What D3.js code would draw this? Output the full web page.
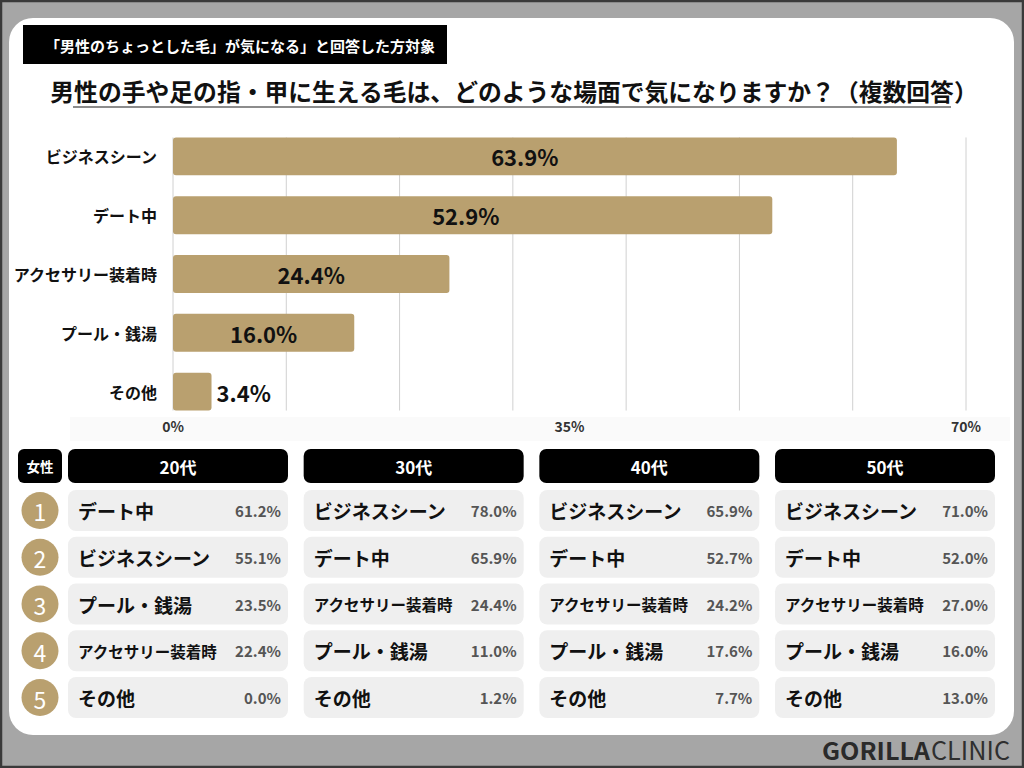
<!DOCTYPE html>
<html><head><meta charset="utf-8">
<script src="https://cdn.jsdelivr.net/npm/d3@7"></script>
<style>
html,body{margin:0;padding:0;background:#a6a6a6;}
svg{display:block;}
text{font-family:"Noto Sans CJK JP","Noto Sans",sans-serif;}
</style></head>
<body>
<svg id="chart" width="1024" height="768"></svg>
<script>
// ---- data ----
const subtitle = "「男性のちょっとした毛」が気になる」と回答した方対象";
const title = "男性の手や足の指・甲に生える毛は、どのような場面で気になりますか？（複数回答）";
const categories = ["ビジネスシーン","デート中","アクセサリー装着時","プール・銭湯","その他"];
const values = [63.9, 52.9, 24.4, 16.0, 3.4];
const axisTicks = [0, 35, 70];
const gridTicks = [0,10,20,30,40,50,60,70];
const genderLabel = "女性";
const ageGroups = ["20代","30代","40代","50代"];
const ranks = [1,2,3,4,5];
const items20 = ["デート中","ビジネスシーン","プール・銭湯","アクセサリー装着時","その他"];
const values20 = [61.2, 55.1, 23.5, 22.4, 0.0];
const items30 = ["ビジネスシーン","デート中","アクセサリー装着時","プール・銭湯","その他"];
const values30 = [78.0, 65.9, 24.4, 11.0, 1.2];
const items40 = ["ビジネスシーン","デート中","アクセサリー装着時","プール・銭湯","その他"];
const values40 = [65.9, 52.7, 24.2, 17.6, 7.7];
const items50 = ["ビジネスシーン","デート中","アクセサリー装着時","プール・銭湯","その他"];
const values50 = [71.0, 52.0, 27.0, 16.0, 13.0];

const groupItems = [items20, items30, items40, items50];
const groupValues = [values20, values30, values40, values50];

const gold = "#b9a06f";
const svg = d3.select("#chart");

// ---- frame ----
svg.append("rect").attr("x",1).attr("y",1).attr("width",1022).attr("height",766)
  .attr("fill","#a6a6a6").attr("stroke","#3a3a3a").attr("stroke-width",2.5);
svg.append("rect").attr("x",9).attr("y",18).attr("width",1005).attr("height",717)
  .attr("rx",24).attr("fill","#ffffff");

// ---- header ----
svg.append("rect").attr("x",23).attr("y",25).attr("width",424).attr("height",39).attr("fill","#000");
svg.append("text").attr("x",240).attr("y",45).attr("text-anchor","middle").attr("dominant-baseline","central")
  .attr("fill","#fff").attr("font-size",15).attr("font-weight",700).text(subtitle);
svg.append("text").attr("x",514).attr("y",90).attr("text-anchor","middle").attr("dominant-baseline","central")
  .attr("fill","#111").attr("font-size",23.8).attr("font-weight",700).text(title);
svg.append("line").attr("x1",73).attr("x2",951).attr("y1",107).attr("y2",107)
  .attr("stroke","#666").attr("stroke-width",1.5);

// ---- bar chart ----
const x = d3.scaleLinear().domain([0,70]).range([173,966]);
const y = d3.scaleBand().domain(categories).range([127,421]).paddingInner(0.356).paddingOuter(0.178);

// faint band behind axis labels
svg.append("rect").attr("x",70).attr("y",417).attr("width",940).attr("height",24).attr("fill","#fafafa");

svg.append("g").selectAll("line").data(gridTicks).join("line")
  .attr("x1",d=>x(d)).attr("x2",d=>x(d))
  .attr("y1",y(categories[0])).attr("y2",y(categories[4])+y.bandwidth())
  .attr("stroke","#d0d0d0").attr("stroke-width",1);

svg.append("g").selectAll("rect").data(values).join("rect")
  .attr("x",x(0)).attr("y",(d,i)=>y(categories[i]))
  .attr("width",d=>x(d)-x(0)).attr("height",y.bandwidth())
  .attr("rx",3).attr("fill",gold);

svg.append("g").selectAll("text").data(values).join("text")
  .attr("x",d=> d<10 ? x(d)+5 : (x(0)+x(d))/2 - Math.max(0,(d-30)*0.3))
  .attr("text-anchor",d=> d<10 ? "start" : "middle")
  .attr("y",(d,i)=>y(categories[i])+y.bandwidth()/2)
  .attr("dominant-baseline","central")
  .attr("fill","#111").attr("font-size",22).attr("font-weight",700)
  .attr("font-family","'Noto Sans','Noto Sans CJK JP',sans-serif")
  .text(d=>d.toFixed(1)+"%");

svg.append("g").selectAll("text").data(categories).join("text")
  .attr("x",157).attr("y",d=>y(d)+y.bandwidth()/2)
  .attr("text-anchor","end").attr("dominant-baseline","central")
  .attr("fill","#111").attr("font-size",16).attr("font-weight",700).text(d=>d);

svg.append("g").selectAll("text").data(axisTicks).join("text")
  .attr("x",d=>x(d)).attr("y",426).attr("text-anchor","middle").attr("dominant-baseline","central")
  .attr("fill","#333").attr("font-size",14).attr("font-weight",700)
  .attr("font-family","'Noto Sans','Noto Sans CJK JP',sans-serif")
  .text(d=>d+"%");

// ---- table ----
const cx = d3.scaleBand().domain(ageGroups).range([68,995]).paddingInner(0.0665);
const ry = d3.scaleBand().domain(ranks).range([490,718]).paddingInner(0.123);

svg.append("rect").attr("x",18).attr("y",449).attr("width",44).attr("height",34).attr("rx",6).attr("fill","#000");
svg.append("text").attr("x",40).attr("y",466).attr("text-anchor","middle").attr("dominant-baseline","central")
  .attr("fill","#fff").attr("font-size",13.5).attr("font-weight",700).text(genderLabel);

const hdr = svg.append("g").selectAll("g").data(ageGroups).join("g");
hdr.append("rect").attr("x",d=>cx(d)).attr("y",449).attr("width",cx.bandwidth()).attr("height",34)
  .attr("rx",7).attr("fill","#000");
hdr.append("text").attr("x",d=>cx(d)+cx.bandwidth()/2).attr("y",466)
  .attr("text-anchor","middle").attr("dominant-baseline","central")
  .attr("fill","#fff").attr("font-size",17).attr("font-weight",700).text(d=>d);

// rank circles
const rk = svg.append("g").selectAll("g").data(ranks).join("g");
rk.append("circle").attr("cx",40).attr("cy",d=>ry(d)+ry.bandwidth()/2).attr("r",18.5).attr("fill",gold);
rk.append("text").attr("x",40).attr("y",d=>ry(d)+ry.bandwidth()/2+1)
  .attr("text-anchor","middle").attr("dominant-baseline","central")
  .attr("fill","#fff").attr("font-size",23).attr("font-weight",400)
  .attr("font-family","'Noto Sans CJK JP','Noto Sans',sans-serif").text(d=>d);

ageGroups.forEach((g,gi)=>{
  const col = svg.append("g");
  const rows = col.selectAll("g").data(ranks).join("g");
  rows.append("rect").attr("x",cx(g)).attr("y",d=>ry(d)).attr("width",cx.bandwidth()).attr("height",ry.bandwidth())
    .attr("rx",8).attr("fill","#efefef");
  rows.append("text").attr("x",cx(g)+10).attr("y",d=>ry(d)+ry.bandwidth()/2)
    .attr("dominant-baseline","central").attr("fill","#111").attr("font-weight",700)
    .attr("font-size",(d,i)=> groupItems[gi][i].length>7 ? 15.5 : 19)
    .text((d,i)=>groupItems[gi][i]);
  rows.append("text").attr("x",cx(g)+cx.bandwidth()-7).attr("y",d=>ry(d)+ry.bandwidth()/2)
    .attr("text-anchor","end").attr("dominant-baseline","central").attr("fill","#555")
    .attr("font-size",15).attr("font-weight",600)
    .attr("font-family","'Open Sans','Noto Sans',sans-serif")
    .text((d,i)=>groupValues[gi][i].toFixed(1)+"%");
});

// ---- logo ----
svg.append("text").attr("x",822).attr("y",760).attr("fill","#2a2a2a")
  .attr("font-family","'DejaVu Sans Condensed','DejaVu Sans',sans-serif").attr("font-weight",700)
  .attr("font-size",24).attr("textLength",108).attr("lengthAdjust","spacingAndGlyphs").text("GORILLA");
svg.append("text").attr("x",931).attr("y",760).attr("fill","#2f2f2f")
  .attr("font-family","'Liberation Serif',serif").attr("font-weight",400)
  .attr("font-size",25).attr("textLength",79).attr("lengthAdjust","spacingAndGlyphs").text("CLINIC");
</script>
</body></html>
